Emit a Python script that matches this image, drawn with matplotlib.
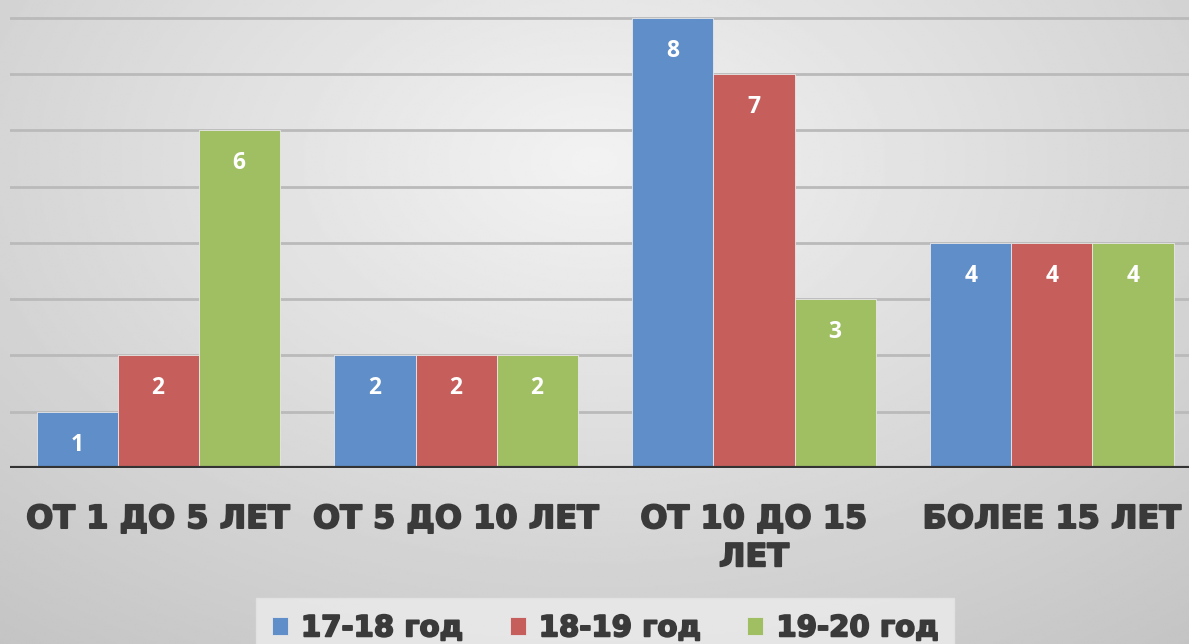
import numpy as np
import matplotlib.pyplot as plt
import matplotlib.patheffects as pe

# Данные
categories = ["ОТ 1 ДО 5 ЛЕТ", "ОТ 5 ДО 10 ЛЕТ", "ОТ 10 ДО 15\nЛЕТ", "БОЛЕЕ 15 ЛЕТ"]
series = ["17-18 год", "18-19 год", "19-20 год"]
v_17_18 = [1, 2, 8, 4]
v_18_19 = [2, 2, 7, 4]
v_19_20 = [6, 2, 3, 4]
colors = ["#5f8ec8", "#c65f5c", "#a0bf63"]

plt.rcParams['font.family'] = ['DejaVu Sans']

fig = plt.figure(figsize=(11.89, 6.44), dpi=100)

# фон с радиальным градиентом
bg = fig.add_axes([0, 0, 1, 1], zorder=0)
yy, xx = np.mgrid[0:1:300j, 0:1:550j]
r = np.sqrt(((xx - 0.5) / 0.75) ** 2 + ((yy - 0.25) / 0.9) ** 2)
bg.imshow(0.95 - 0.17 * r, cmap="gray", vmin=0, vmax=1, aspect="auto",
          extent=[0, 1, 1, 0], interpolation="bilinear")
bg.axis("off")

ax = fig.add_axes([10 / 1189, 176 / 644, 1 - 10 / 1189, 452 / 644], zorder=1)
ax.patch.set_alpha(0)

x = np.arange(len(categories))
w = 0.272
datos = [v_17_18, v_18_19, v_19_20]
for k, vals in enumerate(datos):
    barras = ax.bar(x + (k - 1) * w, vals, w, color=colors[k], zorder=3,
                    edgecolor="#e8e8e8", linewidth=0.6, label=series[k])
    for b, v in zip(barras, vals):
        ax.annotate(str(v), (b.get_x() + b.get_width() / 2, v), xytext=(0, -33),
                    textcoords="offset pixels", family="Open Sans",
                    ha="center", va="center", color="white", fontsize=16.5,
                    fontweight="bold", zorder=4)

ax.set_ylim(0, 8.03)
ax.set_xlim(-0.497, 3.46)
for g in range(1, 9):
    ax.axhline(g, color="#bababa", linewidth=2, zorder=1)
ax.axhline(0, color="#333333", linewidth=3, zorder=5)

grueso = [pe.withStroke(linewidth=1.3, foreground="#3a3a3a")]

ax.set_yticks([])
ax.set_xticks(x)
ax.set_xticklabels(categories, fontsize=23, fontweight="bold", color="#3a3a3a",
                   linespacing=1.3)
for t in ax.get_xticklabels():
    t.set_path_effects(grueso)
ax.tick_params(axis="x", length=0, pad=26)
for s in ax.spines.values():
    s.set_visible(False)

# leyenda
leg = fig.legend(loc="lower center", bbox_to_anchor=(605 / 1189, -0.045), ncol=3,
                 frameon=True, fancybox=False, prop={"size": 21, "weight": "bold"},
                 handlelength=0.55, handleheight=0.55, handletextpad=0.45,
                 columnspacing=1.6, borderpad=0.55)
leg.get_frame().set_facecolor("#ececec")
leg.get_frame().set_edgecolor("#e4e4e4")
for t in leg.get_texts():
    t.set_color("#3a3a3a")
    t.set_path_effects(grueso)

fig.savefig("out.png", dpi=100)
